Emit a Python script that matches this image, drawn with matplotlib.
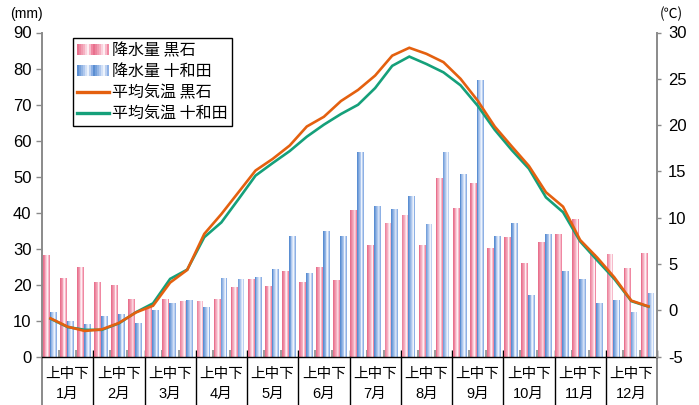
import matplotlib
matplotlib.use('Agg')
import matplotlib.pyplot as plt
import numpy as np
from matplotlib.colors import LinearSegmentedColormap
from matplotlib.legend_handler import HandlerBase
from matplotlib.patches import Rectangle
from matplotlib.lines import Line2D
import matplotlib.transforms as mtransforms

plt.rcParams['font.family'] = ['Liberation Sans', 'Noto Sans CJK JP', 'DejaVu Sans']
plt.rcParams['axes.unicode_minus'] = False

# ---------------- data ----------------
months = ['1月', '2月', '3月', '4月', '5月', '6月', '7月', '8月', '9月', '10月', '11月', '12月']
dekad_label = '上中下'

precip_kuroishi = [28.3, 21.9, 25.0, 20.8, 20.0, 16.1, 13.7, 16.1, 15.6,
                   15.6, 16.1, 19.4, 21.7, 19.7, 23.9, 20.6, 25.0, 21.4,
                   40.8, 31.1, 37.2, 39.2, 31.1, 49.7, 41.4, 48.1, 30.3,
                   33.3, 26.1, 31.9, 34.2, 38.1, 28.6, 28.6, 24.7, 28.9]
precip_towada = [12.5, 10.0, 9.2, 11.4, 11.9, 9.4, 13.0, 15.0, 15.8,
                 13.9, 21.9, 21.7, 22.2, 24.4, 33.6, 23.3, 35.0, 33.6,
                 56.7, 41.7, 41.1, 44.7, 36.7, 56.9, 50.6, 76.9, 33.6,
                 37.0, 17.2, 34.2, 23.9, 21.7, 15.0, 15.8, 12.5, 17.8]
temp_kuroishi = [-0.86, -1.76, -2.22, -2.05, -1.36, -0.22, 0.5, 3.0, 4.37,
                 8.26, 10.4, 12.75, 15.1, 16.35, 17.8, 19.85, 20.9, 22.6,
                 23.8, 25.35, 27.5, 28.35, 27.7, 26.8, 25.0, 22.65, 19.85,
                 17.7, 15.6, 12.75, 11.2, 7.6, 5.7, 3.57, 1.05, 0.43]
temp_towada = [-0.9, -1.8, -2.1, -2.1, -1.4, -0.2, 0.76, 3.4, 4.4,
               7.9, 9.5, 12.0, 14.55, 15.9, 17.2, 18.75, 20.05, 21.2,
               22.2, 24.0, 26.4, 27.4, 26.6, 25.7, 24.3, 22.1, 19.5,
               17.3, 15.3, 12.2, 10.6, 7.45, 5.4, 3.4, 1.0, 0.4]

labels = ['降水量 黒石', '降水量 十和田', '平均気温 黒石', '平均気温 十和田']

# ---------------- style ----------------
pink_cmap = LinearSegmentedColormap.from_list(
    'pink', [(0.0, '#e8708d'), (0.45, '#f6b3c4'), (0.7, '#fff3f6'), (1.0, '#f088a2')])
blue_cmap = LinearSegmentedColormap.from_list(
    'blue', [(0.0, '#5a8ed2'), (0.45, '#b3cbef'), (0.7, '#f2f6fd'), (1.0, '#8db0e5')])
orange = '#e4600f'
green = '#15a07a'
grey = '#8a8a8a'

fig = plt.figure(figsize=(6.99, 4.05), dpi=100)
L, R = 42 / 699, 657 / 699
B, T = 1 - 356.7 / 405, 1 - 32.5 / 405
ax = fig.add_axes([L, B, R - L, T - B])
ax2 = ax.twinx()

n = len(precip_kuroishi)
x = np.arange(n)
nsub = 8
bw = 0.40
sw = bw / nsub
for k in range(nsub):
    f = k / (nsub - 1)
    ax.bar(x + 0.05 + k * sw, precip_kuroishi, width=sw * 1.05, align='edge',
           color=pink_cmap(f), linewidth=0, zorder=2)
    ax.bar(x + 0.45 + k * sw, precip_towada, width=sw * 1.05, align='edge',
           color=blue_cmap(f), linewidth=0, zorder=2)

ax2.plot(x + 0.5, temp_towada, color=green, lw=1.9, solid_joinstyle='miter', zorder=3)
ax2.plot(x + 0.5, temp_kuroishi, color=orange, lw=1.9, solid_joinstyle='miter', zorder=4)

ax.set_xlim(0, n)
ax.set_ylim(0, 90)
ax.set_yticks(range(0, 91, 10))
ax2.set_ylim(-5, 30)
ax2.set_yticks(range(-5, 31, 5))

for a in (ax, ax2):
    a.spines['top'].set_visible(False)
ax.spines['right'].set_visible(False)
ax2.spines['left'].set_visible(False)
ax2.spines['bottom'].set_visible(False)
ax.spines['left'].set_color(grey)
ax.spines['left'].set_linewidth(1.4)
ax2.spines['right'].set_color(grey)
ax2.spines['right'].set_linewidth(1.4)
ax.spines['bottom'].set_color('black')
ax.spines['bottom'].set_linewidth(1.0)

ax.tick_params(axis='y', direction='out', length=4, width=1, color=grey,
               labelsize=12, pad=3.5)
ax2.tick_params(axis='y', direction='out', length=3, width=1, color=grey,
                labelsize=12, pad=5)

month_bounds = list(range(0, n + 1, 3))
dekad_bounds = [b for b in range(n + 1) if b % 3 != 0]
ax.set_xticks(month_bounds)
ax.set_xticklabels([])
ax.set_xticks(dekad_bounds, minor=True)
ax.tick_params(axis='x', which='major', direction='in', length=5, width=1.0,
               color='black')
ax.tick_params(axis='x', which='minor', direction='in', length=5, width=1.2,
               color=grey)

trans = mtransforms.blended_transform_factory(ax.transData, ax.transAxes)
for b in month_bounds:
    col = grey if b in (0, n) else 'black'
    lw = 1.4 if b in (0, n) else 1.0
    ax.add_line(Line2D([b, b], [0, -0.16], transform=trans, color=col, lw=lw,
                       clip_on=False))
for m, name in enumerate(months):
    cx = 3 * m + 1.5
    ax.text(cx, -0.053, dekad_label, transform=trans, ha='center', va='center',
            fontsize=10.5, family=['Noto Sans CJK JP'])
    ax.text(cx, -0.115, name, transform=trans, ha='center', va='center',
            fontsize=10.5, family=['Liberation Sans', 'Noto Sans CJK JP'])

fig.text(10 / 699, 1 - 14 / 405, '(mm)', ha='left', va='center', fontsize=10)
fig.text(660 / 699, 1 - 14 / 405, '(℃)', ha='left', va='center', fontsize=10,
         family=['Noto Sans CJK JP'])


class GradHandler(HandlerBase):
    def __init__(self, cmap, reps=2, nsub=8):
        super().__init__()
        self.cmap = cmap
        self.reps = reps
        self.nsub = nsub

    def create_artists(self, legend, orig_handle, xdescent, ydescent, width,
                       height, fontsize, trans):
        arts = []
        tot = self.reps * self.nsub
        w = width / tot
        for k in range(tot):
            f = (k % self.nsub) / (self.nsub - 1)
            r = Rectangle((-xdescent + k * w, -ydescent), w * 1.05, height,
                          facecolor=self.cmap(f), edgecolor='none',
                          transform=trans)
            arts.append(r)
        return arts


h_pink = Rectangle((0, 0), 1, 1)
h_blue = Rectangle((0, 0), 1, 1)
h_or = Line2D([], [], color=orange, lw=2.4)
h_gr = Line2D([], [], color=green, lw=2.4)
leg = ax2.legend([h_pink, h_blue, h_or, h_gr], labels,
                 handler_map={h_pink: GradHandler(pink_cmap),
                              h_blue: GradHandler(blue_cmap)},
                 loc='upper left', bbox_to_anchor=((73 - 42) / 615, (356.7 - 38) / 324.2),
                 borderaxespad=0, frameon=True, fancybox=False, edgecolor='black',
                 framealpha=1, prop={'family': ['Noto Sans CJK JP'], 'size': 11.5},
                 handlelength=2.0, handletextpad=0.2, labelspacing=0.25,
                 borderpad=0.25, handleheight=0.65)
leg.get_frame().set_linewidth(1.0)
leg.set_zorder(10)

fig.savefig('out.png', dpi=100)
